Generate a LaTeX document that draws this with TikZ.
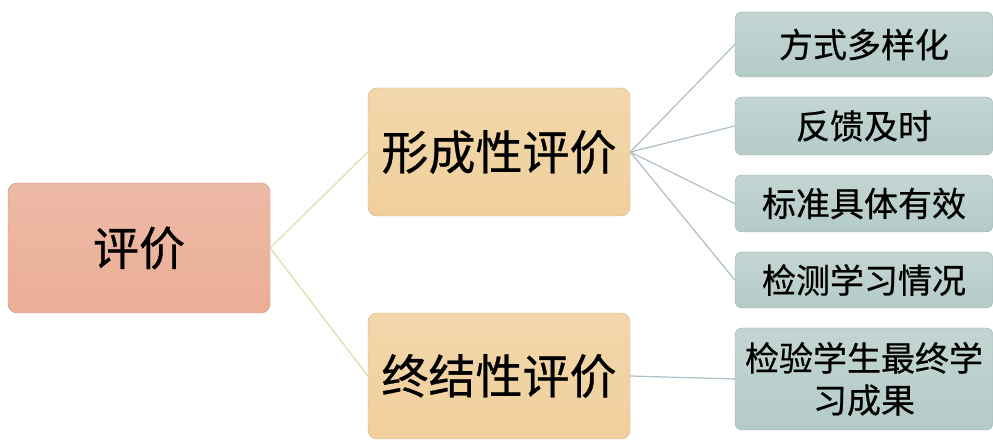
\documentclass[tikz,border=0pt]{standalone}
\usepackage{fontspec}
\setmainfont{Noto Sans CJK SC}[FakeBold=0.6]
\usepackage{tikz}
\usetikzlibrary{shapes,arrows}
\definecolor{rootfill}{RGB}{234,174,150}
\definecolor{rootedge}{RGB}{205,150,130}
\definecolor{midfill}{RGB}{240,208,156}
\definecolor{midedge}{RGB}{205,180,140}
\definecolor{leaffill}{RGB}{180,203,199}
\definecolor{leafedge}{RGB}{150,172,170}
\definecolor{midline}{RGB}{228,220,170}
\definecolor{leafline}{RGB}{172,190,200}
\tikzstyle{root} = [rectangle, draw=rootedge, top color=rootfill!85!white, bottom color=rootfill,
    rounded corners=9pt, minimum width=262pt, minimum height=130pt, inner sep=0pt,
    font=\fontsize{46}{50}\selectfont]
\tikzstyle{level} = [rectangle, draw=midedge, top color=midfill!85!white, bottom color=midfill,
    rounded corners=9pt, minimum width=262pt, minimum height=128pt, inner sep=0pt,
    font=\fontsize{47}{50}\selectfont]
\tikzstyle{leaf} = [rectangle, draw=leafedge, top color=leaffill!80!white, bottom color=leaffill,
    rounded corners=7pt, minimum width=258pt, inner sep=0pt, align=center,
    font=\fontsize{34}{42}\selectfont]
\tikzstyle{line} = [draw=midline, line width=1.3pt]
\tikzstyle{twig} = [draw=leafline, line width=1.2pt]

\begin{document}
\begin{tikzpicture}[x=1pt, y=1pt]
    \useasboundingbox (0,0) rectangle (993,441);
    % Place nodes
    \node [root] (eval) at (139,193) {评价};
    \node [level] (formative) at (499,289) {形成性评价};
    \node [level, minimum height=126pt] (summative) at (499,65) {终结性评价};
    \node [leaf, minimum height=65pt] (varied) at (864,396.5) {方式多样化};
    \node [leaf, minimum height=58pt] (timely) at (864,315) {反馈及时};
    \node [leaf, minimum height=57pt] (criteria) at (864,237.5) {标准具体有效};
    \node [leaf, minimum height=56pt] (monitor) at (864,161) {检测学习情况};
    \node [leaf, minimum height=102pt] (outcome) at (864,62) {检验学生最终学\\习成果};
    % Draw edges
    \path [line] (eval.east) -- (formative.west);
    \path [line] (eval.east) -- (summative.west);
    \path [twig] (formative.east) -- (varied.west);
    \path [twig] (formative.east) -- (timely.west);
    \path [twig] (formative.east) -- (criteria.west);
    \path [twig] (formative.east) -- (monitor.west);
    \path [twig] (summative.east) -- (outcome.west);
\end{tikzpicture}
\end{document}
